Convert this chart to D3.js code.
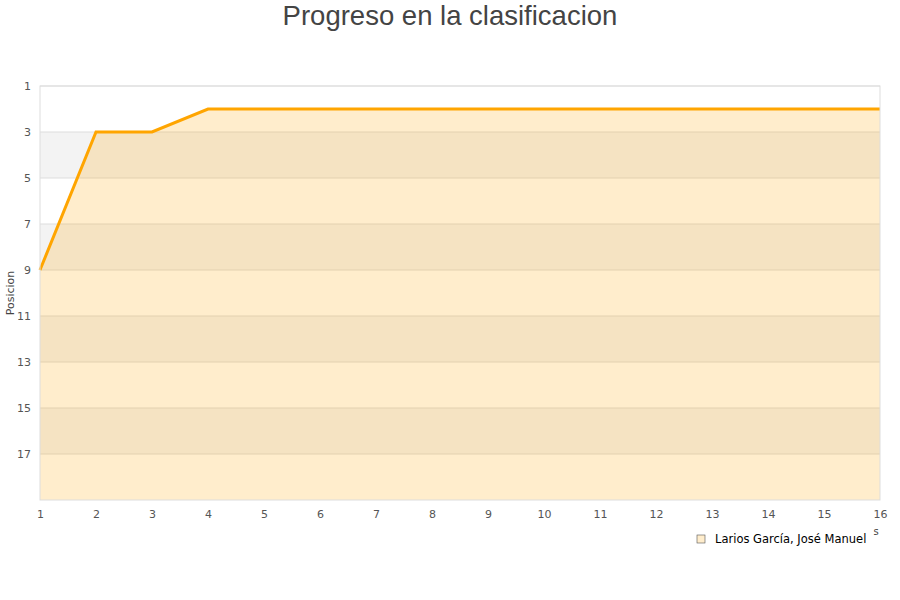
<!DOCTYPE html>
<html>
<head>
<meta charset="utf-8">
<script src="https://cdn.jsdelivr.net/npm/d3@7"></script>
<style>
  body { margin: 0; background: #fff; }
  text { font-family: "DejaVu Sans", sans-serif; }
</style>
</head>
<body>
<div id="chart"></div>
<script>
const width = 900;
const height = 600;

// jornadas y posicion
const rounds = [1, 2, 3, 4, 5, 6, 7, 8, 9, 10, 11, 12, 13, 14, 15, 16];
const positions = [9, 3, 3, 2, 2, 2, 2, 2, 2, 2, 2, 2, 2, 2, 2, 2];
const yTicks = [1, 3, 5, 7, 9, 11, 13, 15, 17];
const playerName = 'Larios García, José Manuel';

const margin = {top: 86, right: 20, bottom: 100, left: 40};
const innerW = width - margin.left - margin.right;
const innerH = height - margin.top - margin.bottom;

const svg = d3.select('#chart').append('svg')
  .attr('width', width)
  .attr('height', height);

svg.append('text')
  .attr('x', width / 2)
  .attr('y', 25)
  .attr('text-anchor', 'middle')
  .style('font-family', '"Liberation Sans", Arial, sans-serif')
  .style('font-size', '27.5px')
  .attr('fill', '#444')
  .text('Progreso en la clasificacion');

const g = svg.append('g')
  .attr('transform', `translate(${margin.left},${margin.top})`);

const x = d3.scaleLinear().domain([1, 16]).range([0, innerW]);
const y = d3.scaleLinear().domain([1, 19]).range([0, innerH]);

// alternating bands
const bands = yTicks.slice(0, -1).map((t, i) => ({from: t, to: t + 2, odd: i % 2 === 1}));
bands.push({from: 17, to: 19, odd: false});
g.selectAll('rect.band')
  .data(bands)
  .join('rect')
  .attr('class', 'band')
  .attr('x', 0)
  .attr('width', innerW)
  .attr('y', d => y(d.from))
  .attr('height', d => y(d.to) - y(d.from))
  .attr('fill', d => d.odd ? '#f3f3f3' : '#ffffff');

// grid lines
g.selectAll('line.grid')
  .data(yTicks)
  .join('line')
  .attr('class', 'grid')
  .attr('x1', 0)
  .attr('x2', innerW)
  .attr('y1', d => y(d))
  .attr('y2', d => y(d))
  .attr('stroke', '#dddddd');

const data = rounds.map((r, i) => ({r, p: positions[i]}));

g.append('path')
  .datum(data)
  .attr('fill', 'rgba(255,165,0,0.2)')
  .attr('d', d3.area().x(d => x(d.r)).y0(innerH).y1(d => y(d.p)));

g.append('path')
  .datum(data)
  .attr('fill', 'none')
  .attr('stroke', '#ffa500')
  .attr('stroke-width', 3)
  .attr('d', d3.line().x(d => x(d.r)).y(d => y(d.p)));

// frame
g.append('rect')
  .attr('width', innerW)
  .attr('height', innerH)
  .attr('fill', 'none')
  .attr('stroke', '#dddddd');

const yAxis = g.append('g')
  .call(d3.axisLeft(y).tickValues(yTicks).tickSize(0).tickPadding(9));
yAxis.select('.domain').remove();
yAxis.selectAll('text').attr('fill', '#555').style('font-size', '11px');

const xAxis = g.append('g')
  .attr('transform', `translate(0,${innerH})`)
  .call(d3.axisBottom(x).tickValues(rounds).tickFormat(d3.format('d')).tickSize(0).tickPadding(10));
xAxis.select('.domain').remove();
xAxis.selectAll('text').attr('fill', '#555').style('font-size', '11px');

svg.append('text')
  .attr('transform', `translate(14,${margin.top + innerH / 2}) rotate(-90)`)
  .attr('text-anchor', 'middle')
  .style('font-size', '11px')
  .attr('fill', '#444')
  .text('Posicion');

svg.append('text')
  .attr('x', 876)
  .attr('y', 535)
  .attr('text-anchor', 'middle')
  .style('font-size', '10px')
  .attr('fill', '#444')
  .text('s');

// legend
const legend = svg.append('g').attr('transform', 'translate(697,535)');
legend.append('rect')
  .attr('width', 8)
  .attr('height', 8)
  .attr('fill', '#ffedcc')
  .attr('stroke', '#555')
  .attr('stroke-width', 0.6);
legend.append('text')
  .attr('x', 18)
  .attr('y', 8)
  .style('font-size', '11.5px')
  .attr('fill', '#000')
  .text(playerName);
</script>
</body>
</html>
